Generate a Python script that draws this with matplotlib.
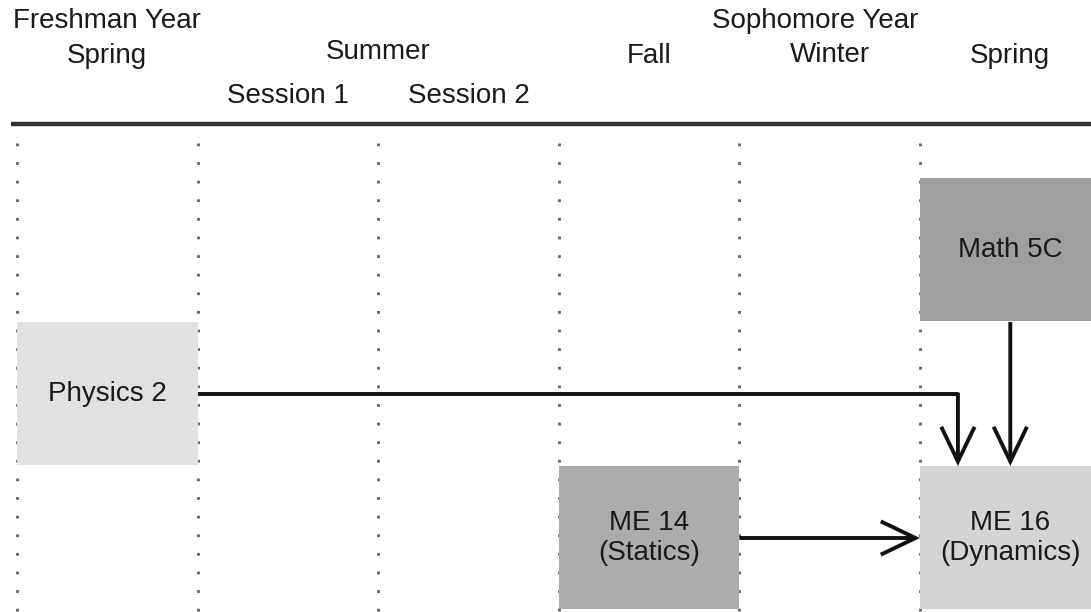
import matplotlib.pyplot as plt
from matplotlib.patches import Rectangle, FancyArrowPatch

plt.rcParams['font.family'] = ['Liberation Sans', 'DejaVu Sans']

# term columns (0..5) and the header texts above them
year_labels = ["Freshman Year", "Sophomore Year"]
year_cols = [0.5, 4.42]
term_labels = ["Spring", "Summer", "Fall", "Winter", "Spring"]
term_cols = [0.5, 2.0, 3.5, 4.5, 5.5]
session_labels = ["Session 1", "Session 2"]
session_cols = [1.5, 2.5]

# courses: name, column, row, shade
courses = ["Math 5C", "Physics 2", "ME 14\n(Statics)", "ME 16\n(Dynamics)"]
course_col = [5, 0, 3, 5]
course_row = [0, 1, 2, 2]
course_shade = ["#9f9f9f", "#e1e1e1", "#acacac", "#d4d4d4"]

n_cols = 6
CW = 180.6   # px per column
RH = 144.0   # px per row

fig = plt.figure(figsize=(10.91, 6.12), dpi=100)
ax = fig.add_axes([0, 0, 1, 1])
ax.set_xlim(-17 / CW, 1074 / CW)
ax.set_ylim(434 / RH, -178 / RH)
ax.axis('off')

txt = dict(fontsize=20, color='#1a1a1a', ha='center', va='center')

# headers
for lab, c in zip(year_labels, year_cols):
    ax.text(c, -1.09, lab, **txt)
for lab, c in zip(term_labels, term_cols):
    y = -0.875 if lab == "Summer" else -0.845
    if lab == "Winter":
        y = -0.855
    ax.text(c, y, lab, **txt)
for lab, c in zip(session_labels, session_cols):
    ax.text(c, -0.572, lab, **txt)

# timeline bar
ax.plot([-0.035, 6.1], [-0.375, -0.375], color='#333333', lw=3.2,
        solid_capstyle='butt', zorder=3)

# dotted column separators
for c in range(n_cols):
    ax.plot([c, c], [-0.245, 3.1], color='#606060', lw=2.0,
            linestyle=(0, (1, 5.7)), zorder=1)

# course boxes
for name, c, r, sh in zip(courses, course_col, course_row, course_shade):
    ax.add_patch(Rectangle((c, r), 1, 0.995, facecolor=sh, edgecolor='none', zorder=2))
    ax.text(c + 0.5, r + 0.5, name, linespacing=1.2, zorder=4, **txt)

arrow_kw = dict(arrowstyle='->,head_length=25,head_width=12', mutation_scale=1,
                color='#111111', lw=2.8, shrinkA=0, shrinkB=0, zorder=5,
                joinstyle='miter', capstyle='butt')

# Physics 2 -> ME 16 (bent)
bend_x = 5.21
ax.plot([1.0, bend_x], [1.5, 1.5], color='#111111', lw=2.8, zorder=5,
        solid_capstyle='butt')
ax.add_patch(FancyArrowPatch((bend_x, 1.5 - 0.01), (bend_x, 2.0), **arrow_kw))
# Math 5C -> ME 16
ax.add_patch(FancyArrowPatch((5.5, 1.0), (5.5, 2.0), **arrow_kw))
# ME 14 -> ME 16
ax.add_patch(FancyArrowPatch((4.0, 2.5), (5.0, 2.5), **arrow_kw))

fig.savefig('out.png', dpi=100)
